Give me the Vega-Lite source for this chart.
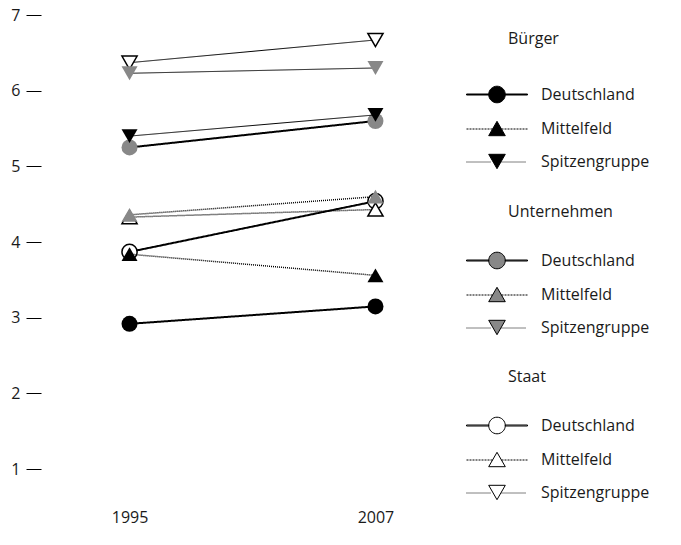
{
  "$schema": "https://vega.github.io/schema/vega-lite/v6.json",
  "width": 423,
  "height": 492,
  "autosize": "none",
  "padding": {"left": 41, "top": 15, "right": 217, "bottom": 38},
  "background": "white",
  "config": {
    "view": {"stroke": null},
    "font": "Open Sans",
    "legend": {
      "orient": "none", "direction": "vertical", "padding": 0,
      "titleFont": "Open Sans", "titleFontSize": 16, "titleFontWeight": "normal", "titleColor": "#1a1a1a", "titleAnchor": "start",
      "labelFont": "Open Sans", "labelFontSize": 16, "labelColor": "#1a1a1a", "labelOffset": 12,
      "symbolSize": 400, "rowPadding": 13, "symbolStrokeColor": "black", "symbolStrokeWidth": 1, "symbolOpacity": 1,
      "symbolType": {"expr": "datum.value === 'Deutschland' ? 'M-5.2,-0.05H-2.98V0.05H-5.2ZM-1.32,-0.05H0.9V0.05H-1.32ZM-2.98,0A0.83,0.83,0,1,1,-1.32,0A0.83,0.83,0,1,1,-2.98,0Z' : datum.value === 'Mittelfeld' ? 'M-5.2,0.05h0.2m0.1,0h0.2m0.1,0h0.2m0.1,0h0.2m0.1,0h0.2m0.1,0h0.2m0.1,0h0.2m0.1,0h0.2m0.1,0h0.2m0.1,0M-1.7,0.05h0.2m0.1,0h0.2m0.1,0h0.2m0.1,0h0.2m0.1,0h0.2m0.1,0h0.2m0.1,0h0.2m0.1,0h0.2m0.1,0h0.2m0.1,0M-2.15,-0.72L-2.98,0.72L-1.32,0.72Z' : 'M-5.2,0.05h0.05m0.05,0h0.05m0.05,0h0.05m0.05,0h0.05m0.05,0h0.05m0.05,0h0.05m0.05,0h0.05m0.05,0h0.05m0.05,0h0.05m0.05,0h0.05m0.05,0h0.05m0.05,0h0.05m0.05,0h0.05m0.05,0h0.05m0.05,0h0.05m0.05,0h0.05m0.05,0h0.05m0.05,0h0.05m0.05,0h0.05m0.05,0h0.05m0.05,0h0.05m0.05,0h0.05m0.05,0h0.05m0.05,0h0.05m0.05,0h0.05m0.05,0M-1.7,0.05h0.05m0.05,0h0.05m0.05,0h0.05m0.05,0h0.05m0.05,0h0.05m0.05,0h0.05m0.05,0h0.05m0.05,0h0.05m0.05,0h0.05m0.05,0h0.05m0.05,0h0.05m0.05,0h0.05m0.05,0h0.05m0.05,0h0.05m0.05,0h0.05m0.05,0h0.05m0.05,0h0.05m0.05,0h0.05m0.05,0h0.05m0.05,0h0.05m0.05,0h0.05m0.05,0h0.05m0.05,0h0.05m0.05,0h0.05m0.05,0h0.05m0.05,0M-2.15,0.72L-2.98,-0.72L-1.32,-0.72Z'"}
    }
  },
  "data": {
    "values": [
      {"sector": "Bürger", "group": "Deutschland", "year": "1995", "value": 2.92},
      {"sector": "Bürger", "group": "Deutschland", "year": "2007", "value": 3.15},
      {"sector": "Bürger", "group": "Mittelfeld", "year": "1995", "value": 3.84},
      {"sector": "Bürger", "group": "Mittelfeld", "year": "2007", "value": 3.56},
      {"sector": "Bürger", "group": "Spitzengruppe", "year": "1995", "value": 5.40},
      {"sector": "Bürger", "group": "Spitzengruppe", "year": "2007", "value": 5.68},
      {"sector": "Unternehmen", "group": "Deutschland", "year": "1995", "value": 5.25},
      {"sector": "Unternehmen", "group": "Deutschland", "year": "2007", "value": 5.60},
      {"sector": "Unternehmen", "group": "Mittelfeld", "year": "1995", "value": 4.36},
      {"sector": "Unternehmen", "group": "Mittelfeld", "year": "2007", "value": 4.60},
      {"sector": "Unternehmen", "group": "Spitzengruppe", "year": "1995", "value": 6.23},
      {"sector": "Unternehmen", "group": "Spitzengruppe", "year": "2007", "value": 6.30},
      {"sector": "Staat", "group": "Deutschland", "year": "1995", "value": 3.87},
      {"sector": "Staat", "group": "Deutschland", "year": "2007", "value": 4.54},
      {"sector": "Staat", "group": "Mittelfeld", "year": "1995", "value": 4.33},
      {"sector": "Staat", "group": "Mittelfeld", "year": "2007", "value": 4.43},
      {"sector": "Staat", "group": "Spitzengruppe", "year": "1995", "value": 6.37},
      {"sector": "Staat", "group": "Spitzengruppe", "year": "2007", "value": 6.67}
    ]
  },
  "encoding": {
    "x": {
      "field": "year", "type": "ordinal",
      "scale": {"type": "point", "padding": 0.36},
      "axis": {"title": null, "labelAngle": 0, "domain": false, "ticks": false, "tickSize": 0, "labelPadding": 2, "labelFont": "Open Sans", "labelFontSize": 16, "labelColor": "#1a1a1a"}
    },
    "y": {
      "field": "value", "type": "quantitative",
      "scale": {"domain": [0.5, 7], "nice": false, "zero": false},
      "axis": {"title": null, "values": [1, 2, 3, 4, 5, 6, 7], "domain": false, "grid": false, "tickSize": 15, "tickColor": "black", "tickWidth": 1, "labelPadding": 6, "labelFont": "Open Sans", "labelFontSize": 16, "labelColor": "#1a1a1a"}
    }
  },
  "layer": [
    {
      "transform": [{"filter": "datum.sector === 'Staat'"}],
      "layer": [
        {
          "mark": {"type": "line", "color": "black"},
          "encoding": {
            "strokeDash": {"field": "group", "type": "nominal", "scale": {"domain": ["Deutschland", "Mittelfeld", "Spitzengruppe"], "range": [[1, 0], [1, 1], [1, 0]]}, "legend": null},
            "strokeWidth": {"field": "group", "type": "ordinal", "scale": {"domain": ["Deutschland", "Mittelfeld", "Spitzengruppe"], "range": [2, 1, 1]}, "legend": null}
          }
        },
        {
          "mark": {"type": "point", "filled": true, "stroke": "black", "strokeWidth": 1.5, "size": 230, "opacity": 1},
          "encoding": {
            "shape": {"field": "group", "type": "nominal", "scale": {"domain": ["Deutschland", "Mittelfeld", "Spitzengruppe"], "range": ["circle", "triangle-up", "triangle-down"]}, "legend": null},
            "fill": {
              "field": "group", "type": "nominal",
              "scale": {"domain": ["Deutschland", "Mittelfeld", "Spitzengruppe"], "range": ["white", "white", "white"]},
              "legend": {"title": "Staat", "legendX": 467, "legendY": 354, "titlePadding": 30}
            }
          }
        }
      ]
    },
    {
      "transform": [{"filter": "datum.sector === 'Unternehmen'"}],
      "layer": [
        {
          "mark": {"type": "line", "color": "black"},
          "encoding": {
            "strokeDash": {"field": "group", "type": "nominal", "scale": {"domain": ["Deutschland", "Mittelfeld", "Spitzengruppe"], "range": [[1, 0], [1, 1], [1, 0]]}, "legend": null},
            "strokeWidth": {"field": "group", "type": "ordinal", "scale": {"domain": ["Deutschland", "Mittelfeld", "Spitzengruppe"], "range": [2, 1, 1]}, "legend": null}
          }
        },
        {
          "mark": {"type": "point", "filled": true, "size": 256, "opacity": 1},
          "encoding": {
            "shape": {"field": "group", "type": "nominal", "scale": {"domain": ["Deutschland", "Mittelfeld", "Spitzengruppe"], "range": ["circle", "triangle-up", "triangle-down"]}, "legend": null},
            "fill": {
              "field": "group", "type": "nominal",
              "scale": {"domain": ["Deutschland", "Mittelfeld", "Spitzengruppe"], "range": ["#888888", "#888888", "#888888"]},
              "legend": {"title": "Unternehmen", "legendX": 467, "legendY": 189, "titlePadding": 30}
            }
          }
        }
      ]
    },
    {
      "transform": [{"filter": "datum.sector === 'Bürger'"}],
      "layer": [
        {
          "mark": {"type": "line", "color": "black"},
          "encoding": {
            "strokeDash": {"field": "group", "type": "nominal", "scale": {"domain": ["Deutschland", "Mittelfeld", "Spitzengruppe"], "range": [[1, 0], [1, 1], [1, 0]]}, "legend": null},
            "strokeWidth": {"field": "group", "type": "ordinal", "scale": {"domain": ["Deutschland", "Mittelfeld", "Spitzengruppe"], "range": [2, 1, 1]}, "legend": null}
          }
        },
        {
          "mark": {"type": "point", "filled": true, "size": 256, "opacity": 1},
          "encoding": {
            "shape": {"field": "group", "type": "nominal", "scale": {"domain": ["Deutschland", "Mittelfeld", "Spitzengruppe"], "range": ["circle", "triangle-up", "triangle-down"]}, "legend": null},
            "fill": {
              "field": "group", "type": "nominal",
              "scale": {"domain": ["Deutschland", "Mittelfeld", "Spitzengruppe"], "range": ["black", "black", "black"]},
              "legend": {"title": "Bürger", "legendX": 467, "legendY": 16, "titlePadding": 37}
            }
          }
        }
      ]
    }
  ],
  "resolve": {"scale": {"fill": "independent"}, "legend": {"fill": "independent"}}
}
